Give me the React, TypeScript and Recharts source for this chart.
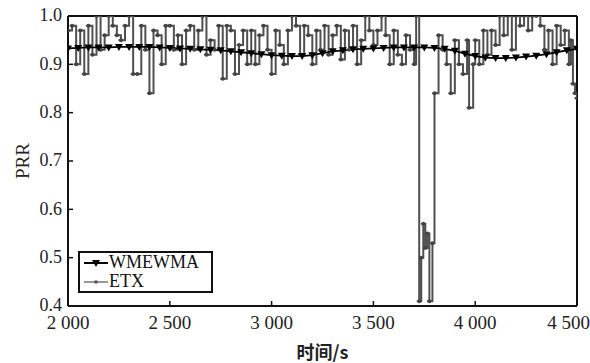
import { Legend, Line, LineChart, ReferenceLine, XAxis, YAxis } from "recharts";

const seriesNames = ["WMEWMA", "ETX"];

const xTicks = [2000, 2500, 3000, 3500, 4000, 4500];
const yTicks = [0.4, 0.5, 0.6, 0.7, 0.8, 0.9, 1.0];

const wmewmaTimes = [
  2000, 2050, 2100, 2150, 2200, 2250, 2300, 2350, 2400, 2450, 2500, 2550, 2600, 2650, 2700, 2750, 2800,
  2850, 2900, 2950, 3000, 3050, 3100, 3150, 3200, 3250, 3300, 3350, 3400, 3450, 3500, 3550, 3600, 3650,
  3700, 3750, 3800, 3850, 3900, 3950, 4000, 4050, 4100, 4150, 4200, 4250, 4300, 4350, 4400, 4450, 4500,
];
const wmewmaValues = [
  0.933, 0.934, 0.935, 0.935, 0.935, 0.936, 0.936, 0.936, 0.936, 0.935, 0.934, 0.933, 0.932, 0.931, 0.93,
  0.929, 0.927, 0.925, 0.923, 0.921, 0.919, 0.918, 0.917, 0.917, 0.919, 0.923, 0.927, 0.929, 0.931, 0.932,
  0.933, 0.934, 0.935, 0.935, 0.935, 0.935, 0.934, 0.932, 0.928, 0.922, 0.917, 0.914, 0.913, 0.913, 0.914,
  0.916, 0.918, 0.921, 0.925, 0.929, 0.932,
];

const etxTimes = [
  2000, 2020, 2040, 2060, 2080, 2100, 2120, 2140, 2160, 2180, 2200, 2220, 2240, 2260, 2280, 2300, 2320,
  2340, 2360, 2380, 2400, 2420, 2440, 2460, 2480, 2500, 2520, 2540, 2560, 2580, 2600, 2620, 2640, 2660,
  2680, 2700, 2720, 2740, 2760, 2780, 2800, 2820, 2840, 2860, 2880, 2900, 2920, 2940, 2960, 2980, 3000,
  3020, 3040, 3060, 3080, 3100, 3120, 3140, 3160, 3180, 3200, 3220, 3240, 3260, 3280, 3300, 3320, 3340,
  3360, 3380, 3400, 3420, 3440, 3460, 3480, 3500, 3520, 3540, 3560, 3580, 3600, 3620, 3640, 3660, 3680,
  3700, 3710, 3725, 3735, 3745, 3755, 3765, 3775, 3790, 3800, 3820, 3840, 3860, 3880, 3900, 3920, 3940,
  3960, 3970, 3990, 4000, 4020, 4040, 4060, 4080, 4100, 4120, 4140, 4160, 4180, 4200, 4220, 4240, 4260,
  4280, 4300, 4320, 4340, 4360, 4380, 4400, 4420, 4440, 4460, 4470, 4480, 4490, 4500,
];
const etxValues = [
  0.97, 0.98, 0.9, 0.97, 0.88, 0.98, 0.92, 1.0, 0.93, 0.96, 1.0, 0.98, 0.96, 0.95, 0.98, 1.0, 0.88,
  0.88, 0.98, 0.93, 0.84, 0.97, 0.96, 0.9, 0.98, 0.98, 0.93, 0.96, 0.9, 0.97, 0.98, 0.93, 0.97, 1.0,
  0.92, 0.95, 0.93, 0.98, 0.87, 0.98, 0.97, 0.88, 0.94, 0.97, 0.9, 0.97, 0.9, 0.96, 0.98, 0.93, 0.88,
  0.97, 0.94, 0.9, 0.97, 1.0, 0.98, 0.92, 0.98, 0.96, 0.9, 0.97, 0.93, 0.98, 0.92, 0.96, 0.98, 0.91,
  0.97, 0.93, 0.98, 0.9, 0.95, 1.0, 0.97, 0.94, 0.97, 1.0, 0.96, 0.9, 0.97, 0.92, 0.9, 0.96, 0.93,
  0.9, 1.0, 0.41, 0.5, 0.57, 0.52, 0.55, 0.41, 0.53, 0.84, 0.96, 0.93, 0.9, 0.84, 0.95, 0.9, 0.88,
  0.95, 0.81, 0.9, 0.95, 0.9, 0.97, 0.92, 0.97, 0.94, 1.0, 0.96, 1.0, 0.93, 1.0, 0.98, 1.0, 0.97,
  1.0, 1.0, 0.98, 0.93, 0.97, 0.9, 0.98, 0.94, 0.97, 0.9, 0.95, 0.86, 0.84, 0.83,
];

const wmewmaData = wmewmaTimes.map((t, i) => ({ t, v: wmewmaValues[i] }));
const etxData = etxTimes.map((t, i) => ({ t, v: etxValues[i] }));

const serif = "'Liberation Serif', 'DejaVu Serif', serif";

function formatTime(n: number) {
  const s = String(n);
  return s.length > 3 ? s.slice(0, -3) + " " + s.slice(-3) : s;
}

function TriangleDot(props: any) {
  const { cx, cy, index } = props;
  if (cx == null || cy == null) return <g key={index} />;
  return <path key={index} d={`M${cx - 4},${cy - 3} L${cx + 4},${cy - 3} L${cx},${cy + 4} Z`} fill="#000" />;
}

function SmallDot(props: any) {
  const { cx, cy, index } = props;
  if (cx == null || cy == null) return <g key={index} />;
  return (
    <g key={index}>
      <line x1={cx - 2.5} x2={cx + 2.5} y1={cy} y2={cy} stroke="#444" strokeWidth={1.5} />
      <circle cx={cx} cy={cy} r={2} fill="#444" />
    </g>
  );
}

// y tick labels, nudged up a touch so "0.4" clears "2 000"
function YTick(props: any) {
  const { x, y, payload } = props;
  return (
    <text x={x} y={y - 1} dy="0.35em" textAnchor="end" fill="#222" fontSize={18} fontFamily={serif}>
      {Number(payload.value).toFixed(1)}
    </text>
  );
}

function LegendBox() {
  return (
    <div
      style={{
        border: "2px solid #111",
        width: 135,
        height: 42,
        background: "#fff",
        fontFamily: serif,
        fontSize: 18,
        lineHeight: "19px",
        color: "#111",
        padding: "0 0 0 3px",
        boxSizing: "border-box",
      }}
    >
      <div style={{ display: "flex", alignItems: "center", height: 19 }}>
        <svg width={26} height={12}>
          <line x1={1} x2={25} y1={6} y2={6} stroke="#000" strokeWidth={2} />
          <path d="M9,3 L17,3 L13,10 Z" fill="#000" />
        </svg>
        <span>{seriesNames[0]}</span>
      </div>
      <div style={{ display: "flex", alignItems: "center", height: 19 }}>
        <svg width={26} height={12}>
          <line x1={1} x2={25} y1={6} y2={6} stroke="#777" strokeWidth={1.5} />
          <circle cx={13} cy={6} r={1.8} fill="#555" />
        </svg>
        <span>{seriesNames[1]}</span>
      </div>
    </div>
  );
}

export default function App() {
  return (
    <div style={{ position: "absolute", left: 0, top: 0, width: 590, height: 363, background: "#fff" }}>
      <LineChart width={590} height={363} margin={{ top: 16, right: 13, left: 0, bottom: 0 }}>
        <XAxis
          type="number"
          dataKey="t"
          domain={[2000, 4500]}
          ticks={xTicks}
          allowDataOverflow
          height={57}
          tickFormatter={formatTime}
          tick={{ fill: "#222", fontSize: 19, fontFamily: serif }}
          tickSize={-5}
          tickMargin={15}
          axisLine={{ stroke: "#111", strokeWidth: 2 }}
          tickLine={{ stroke: "#111", strokeWidth: 1.5 }}
          label={{
            value: "时间/s",
            position: "center",
            dy: 18,
            fill: "#222",
            fontSize: 18,
            fontWeight: "bold",
            fontFamily: "'Noto Sans CJK SC', serif",
          }}
        />
        <YAxis
          type="number"
          domain={[0.4, 1.0]}
          ticks={yTicks}
          allowDataOverflow
          width={68}
          tick={<YTick />}
          tickSize={-5}
          tickMargin={11}
          axisLine={{ stroke: "#111", strokeWidth: 2 }}
          tickLine={{ stroke: "#111", strokeWidth: 1.5 }}
          label={{
            value: "PRR",
            angle: -90,
            position: "center",
            dx: -12,
            fill: "#222",
            fontSize: 19,
            fontFamily: serif,
          }}
        />
        <ReferenceLine y={1.0} stroke="#111" strokeWidth={2} />
        <ReferenceLine x={4500} stroke="#111" strokeWidth={2} />
        <Line
          data={etxData}
          dataKey="v"
          name={seriesNames[1]}
          type="stepAfter"
          stroke="#505050"
          strokeWidth={2}
          dot={SmallDot}
          activeDot={false}
          isAnimationActive={false}
        />
        <Line
          data={wmewmaData}
          dataKey="v"
          name={seriesNames[0]}
          type="linear"
          stroke="#000"
          strokeWidth={1.8}
          dot={TriangleDot}
          activeDot={false}
          isAnimationActive={false}
        />
        <Legend
          layout="horizontal"
          verticalAlign="middle"
          align="center"
          content={() => <LegendBox />}
          wrapperStyle={{ position: "absolute", left: 78, top: 251, width: 135, height: 42 }}
        />
      </LineChart>
    </div>
  );
}
